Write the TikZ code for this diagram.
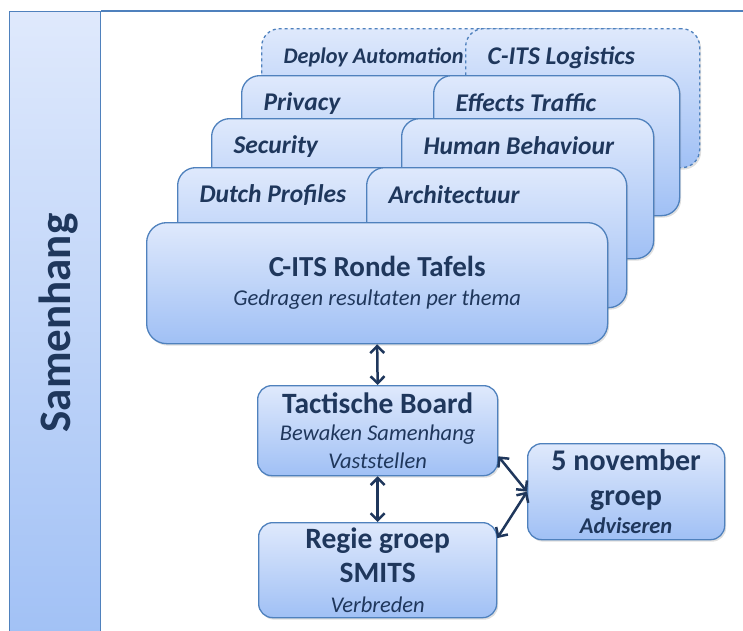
\documentclass[tikz,border=0pt]{standalone}
\usepackage{fontspec}
\setmainfont{Carlito}
\usetikzlibrary{shadows,arrows.meta}
\definecolor{navy}{RGB}{31,55,92}
\definecolor{edge}{RGB}{79,129,189}
\definecolor{lite}{RGB}{223,233,252}
\definecolor{deep}{RGB}{160,192,245}
\tikzset{
  box/.style={draw=edge, line width=1.3pt, rounded corners=18pt, top color=lite, bottom color=deep,
    drop shadow={shadow xshift=1.5pt, shadow yshift=-2pt, opacity=.25}, anchor=north west, inner sep=0pt, text=navy},
  lvl4/.style={dashed}, lvl3/.style={}, lvl2/.style={}, lvl1/.style={},
  lbl/.style={anchor=base west, text=navy},
  arr/.style={{Straight Barb[length=7pt,width=14pt]}-{Straight Barb[length=7pt,width=14pt]}, line width=2.5pt, draw=navy}
}
\begin{document}
\begin{tikzpicture}[x=1pt,y=-1pt]
\useasboundingbox (0,0) rectangle (743,630);
\node[draw=edge, line width=1.3pt, top color=lite, bottom color=deep, anchor=north west, minimum width=91pt, minimum height=640pt, inner sep=0pt] (bar) at (9,11) {};
\node[rotate=90, text=navy, font=\fontsize{45}{45}\selectfont\bfseries] (samenhang) at (59,323) {Samenhang};
\coordinate (frame) at (743,11);
\draw[edge, line width=2.2pt] (bar.north east) -- (frame);
\foreach \n/\xl/\xm/\xr/\yt/\yb/\s/\la/\lb in {4/261/465/699/28/167/22.3/Deploy Automation/C-ITS Logistics,
  3/241/433/679/75/215/25.5/Privacy/Effects Traffic, 2/211/401/653/118/258/25.5/Security/Human Behaviour,
  1/177/366/626/167/307/25.5/Dutch Profiles/Architectuur}{
  \node[box, lvl\n, minimum width={\xr pt-\xl pt-40pt}, minimum height={\yb pt-\yt pt}] (l-\n) at (\xl,\yt) {};
  \node[lbl, font=\fontsize{\s}{\s}\selectfont\bfseries\itshape] (lt-\n) at ([xshift=19pt,yshift=-35pt]l-\n.north west) {\la};
  \node[box, lvl\n, minimum width={\xr pt-\xm pt}, minimum height={\yb pt-\yt pt}] (r-\n) at (\xm,\yt) {};
  \node[lbl, font=\fontsize{25.5}{25.5}\selectfont\bfseries\itshape] (rt-\n) at ([xshift=19pt,yshift=-36pt]r-\n.north west) {\lb};
}
\node[box, rounded corners=20pt, minimum width=461pt, minimum height=121pt, align=center, font=\fontsize{22.6}{29}\selectfont] (ronde) at (146,222)
  {{\fontsize{29}{29}\selectfont\bfseries C-ITS Ronde Tafels}\\ \itshape Gedragen resultaten per thema};
\node[box, rounded corners=14pt, minimum width=240pt, minimum height=90pt, align=center, font=\fontsize{22.5}{27.5}\selectfont] (tb) at (257,385)
  {{\fontsize{29.5}{29.5}\selectfont\bfseries Tactische Board}\\ \itshape Bewaken Samenhang\\ \itshape Vaststellen};
\node[box, rounded corners=14pt, minimum width=238pt, minimum height=95pt, align=center, font=\fontsize{22.5}{30}\selectfont] (rg) at (258,522)
  {{\fontsize{29.5}{29.5}\selectfont\bfseries Regie groep}\\[4pt] {\fontsize{29.5}{29.5}\selectfont\bfseries SMITS}\\ \itshape Verbreden};
\node[box, rounded corners=14pt, minimum width=197pt, minimum height=96pt, align=center, font=\fontsize{22.5}{28}\selectfont] (nov) at (527,443)
  {{\fontsize{30}{30}\selectfont\bfseries 5 november}\\[7pt] {\fontsize{30}{30}\selectfont\bfseries groep}\\ \bfseries\itshape Adviseren};
\draw[arr] (ronde.south) -- (tb.north);
\draw[arr] (tb.south) -- (rg.north);
\draw[arr] (tb.-12) -- (nov.west);
\draw[arr] (rg.15) -- (nov.west);
\end{tikzpicture}
\end{document}
